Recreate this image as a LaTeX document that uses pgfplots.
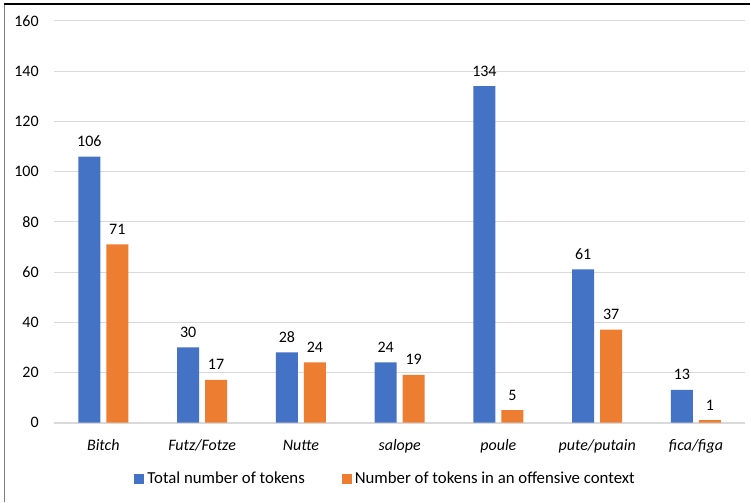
\documentclass[border=0pt]{standalone}
\usepackage{fontspec}
\setmainfont{Carlito}
\usepackage{pgfplots}
\pgfplotsset{compat=1.18}
\definecolor{barblue}{HTML}{4472C4}
\definecolor{barorange}{HTML}{ED7D31}
\definecolor{gridgray}{HTML}{D9D9D9}
\definecolor{framegray}{HTML}{7F7F7F}
\begin{document}
\begin{tikzpicture}[x=0.75pt,y=0.75pt]
% canvas and outer frame (top and left edges)
\fill[white] (0,0) rectangle (751,502);
\draw[framegray, line width=1pt] (4.5,498) -- (4.5,0);
\draw[black, line width=1pt] (4,498) -- (751,498);
\begin{axis}[
  at={(40.5pt,59.25pt)}, anchor=south west,
  scale only axis, width=519pt, height=301.5pt,
  font=\fontsize{12pt}{14pt}\selectfont,
  /pgf/number format/assume math mode=true,
  ybar=4.5pt, bar width=16.5pt,
  xmin=-0.5, xmax=6.5,
  ymin=0, ymax=160, ytick distance=20,
  xtick={0,...,6},
  xticklabels={Bitch, Futz/Fotze, Nutte, salope, poule, pute/putain, fica/figa},
  xticklabel style={font=\fontsize{12pt}{14pt}\selectfont\itshape, anchor=base, inner sep=0pt, yshift=-21pt},
  yticklabel style={anchor=east, inner sep=0pt, xshift=-11.25pt},
  major tick length=0pt,
  axis x line*=bottom, axis y line*=left,
  x axis line style={-, draw=gridgray, line width=1.4pt},
  y axis line style={draw=none},
  ymajorgrids, grid style={draw=gridgray, line width=0.75pt},
  nodes near coords,
  nodes near coords style={anchor=base, inner sep=0pt, yshift=7.5pt, text=black, font=\fontsize{12pt}{14pt}\selectfont},
  legend columns=2,
  legend style={draw=none, fill=none, at={(0.4805,-0.1405)}, anchor=center,
    font=\fontsize{12.6pt}{14pt}\selectfont,
    nodes={inner xsep=2.25pt, inner ysep=1pt},
    /tikz/every even column/.append style={column sep=25.5pt}},
  legend image code/.code={\fill[#1] (0pt,-3.75pt) rectangle (7.5pt,3.75pt);},
  clip=false,
]
\addplot[fill=barblue, draw=none] coordinates {(0,106) (1,30) (2,28) (3,24) (4,134) (5,61) (6,13)};
\addplot[fill=barorange, draw=none] coordinates {(0,71) (1,17) (2,24) (3,19) (4,5) (5,37) (6,1)};
\legend{Total number of tokens, Number of tokens in an offensive context}
\end{axis}
\end{tikzpicture}
\end{document}
